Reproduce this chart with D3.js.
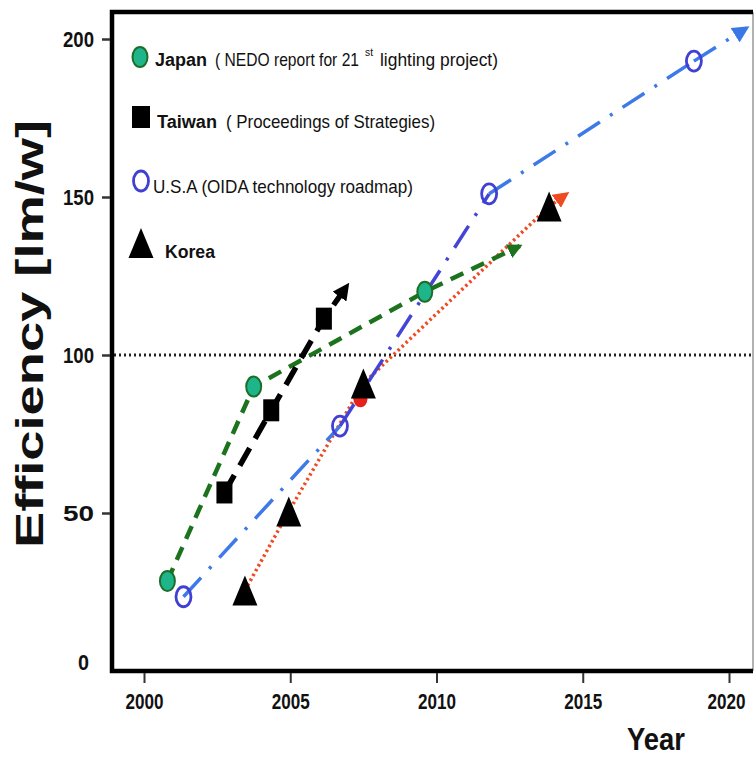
<!DOCTYPE html>
<html><head><meta charset="utf-8">
<script src="https://cdn.jsdelivr.net/npm/d3@7"></script>
<style>
html,body{margin:0;padding:0;background:#fff;}
svg{display:block;}
</style></head>
<body>
<svg id="chart" width="755" height="760"></svg>
<script>
// ---- data ----
const xTicks = [2000, 2005, 2010, 2015, 2020];
const yTicks = [0, 50, 100, 150, 200];
const seriesNames = ["Japan", "Taiwan", "U.S.A", "Korea"];
const japanYears = [2000.8, 2003.75, 2009.6];
const japanValues = [28.5, 90, 120];
const japanArrow = [2012.85, 134.5];
const taiwanYears = [2002.75, 2004.35, 2006.15];
const taiwanValues = [56.5, 82.5, 111.5];
const taiwanArrow = [2006.95, 122];
const usaYears = [2001.35, 2006.7, 2011.8, 2018.8];
const usaValues = [23.5, 77.5, 151, 193];
const usaArrow = [2020.6, 203.5];
const koreaYears = [2003.45, 2004.95, 2007.5, 2013.85];
const koreaValues = [25.5, 50.5, 91, 147];
const koreaArrow = [2014.45, 151];
const koreaRedPoint = [2007.4, 86];
const referenceLine = 100;

const svg = d3.select("#chart");
const fLeft = 112, fRight = 753, fTop = 12, fBottom = 671;
const x = d3.scaleLinear().domain([2000, 2020]).range([144, 729]);
const y = d3.scaleLinear().domain([0, 200]).range([671, 39]);

// arrow markers
const defs = svg.append("defs");
function arrow(id, color, size) {
  defs.append("marker").attr("id", id)
    .attr("viewBox", "0 0 10 10").attr("refX", 8).attr("refY", 5)
    .attr("markerUnits", "userSpaceOnUse")
    .attr("markerWidth", size).attr("markerHeight", size)
    .attr("orient", "auto")
    .append("path").attr("d", "M0,0 L10,5 L0,10 Z").attr("fill", color);
}
arrow("arJ", "#1d731d", 15);
arrow("arT", "#000", 17);
arrow("arU", "#3b78e7", 17);
arrow("arK", "#ef4a22", 16);

// reference dotted line at 100
svg.append("line")
  .attr("x1", fLeft + 2).attr("x2", fRight)
  .attr("y1", y(referenceLine)).attr("y2", y(referenceLine))
  .attr("stroke", "#222").attr("stroke-width", 3)
  .attr("stroke-dasharray", "2,3");

const line = d3.line().x(d => x(d[0])).y(d => y(d[1]));
function pts(xs, vs, end) { const p = xs.map((v, i) => [v, vs[i]]); if (end) p.push(end); return p; }

// Korea red dotted
svg.append("path").datum(pts(koreaYears, koreaValues, koreaArrow)).attr("d", line)
  .attr("fill", "none").attr("stroke", "#ef4a22").attr("stroke-width", 3.5)
  .attr("stroke-dasharray", "2.5,3").attr("marker-end", "url(#arK)");
svg.append("ellipse").attr("cx", x(koreaRedPoint[0])).attr("cy", y(koreaRedPoint[1]))
  .attr("rx", 7).attr("ry", 8).attr("fill", "#e8201a");

// USA blue dash-dot
const usaPts = pts(usaYears, usaValues, usaArrow);
const usaSegColors = ["#3d7ae8", "#4444d6", "#3d7ae8", "#3d7ae8"];
for (let i = 0; i < usaPts.length - 1; i++) {
  svg.append("path").datum([usaPts[i], usaPts[i + 1]]).attr("d", line)
    .attr("fill", "none").attr("stroke", usaSegColors[i]).attr("stroke-width", 3.5)
    .attr("stroke-dasharray", "26,12,3,12")
    .attr("marker-end", i === usaPts.length - 2 ? "url(#arU)" : null);
}

// Japan green dashed
svg.append("path").datum(pts(japanYears, japanValues, japanArrow)).attr("d", line)
  .attr("fill", "none").attr("stroke", "#1d731d").attr("stroke-width", 4.5)
  .attr("stroke-dasharray", "14,9").attr("marker-end", "url(#arJ)");

// Taiwan black dashed
svg.append("path").datum(pts(taiwanYears, taiwanValues, taiwanArrow)).attr("d", line)
  .attr("fill", "none").attr("stroke", "#000").attr("stroke-width", 5.5)
  .attr("stroke-dasharray", "20,11").attr("marker-end", "url(#arT)");

// markers
const tri = (cx, cy, w, h) => `M${cx},${cy - h / 2} L${cx + w / 2},${cy + h / 2} L${cx - w / 2},${cy + h / 2} Z`;
svg.selectAll(".kor").data(pts(koreaYears, koreaValues)).join("path")
  .attr("d", d => tri(x(d[0]), y(d[1]), 25, 30)).attr("fill", "#000");
svg.selectAll(".usa").data(pts(usaYears, usaValues)).join("ellipse")
  .attr("cx", d => x(d[0])).attr("cy", d => y(d[1])).attr("rx", 7.5).attr("ry", 10)
  .attr("fill", "none").attr("stroke", "#4040d2").attr("stroke-width", 2.8);
svg.selectAll(".jap").data(pts(japanYears, japanValues)).join("ellipse")
  .attr("cx", d => x(d[0])).attr("cy", d => y(d[1])).attr("rx", 7.5).attr("ry", 10)
  .attr("fill", "#1fb58a").attr("stroke", "#1d6e2a").attr("stroke-width", 2);
svg.selectAll(".tai").data(pts(taiwanYears, taiwanValues)).join("rect")
  .attr("x", d => x(d[0]) - 8).attr("y", d => y(d[1]) - 11).attr("width", 16).attr("height", 22)
  .attr("fill", "#000");

// frame
svg.append("line").attr("x1", fRight).attr("x2", fRight).attr("y1", fTop).attr("y2", fBottom)
  .attr("stroke", "#999").attr("stroke-width", 1.5);
svg.append("path").attr("d", `M${fRight},${fTop} L${fLeft},${fTop} L${fLeft},${fBottom} L${fRight},${fBottom}`)
  .attr("fill", "none").attr("stroke", "#000").attr("stroke-width", 4.5);

// axes
const fontMain = "'Liberation Sans',Arial,sans-serif";
const xAxis = svg.append("g").attr("transform", `translate(0,${fBottom + 2})`)
  .call(d3.axisBottom(x).tickValues(xTicks).tickFormat(d3.format("d")).tickSize(10).tickPadding(10));
xAxis.select(".domain").remove();
xAxis.selectAll("line").attr("stroke", "#333").attr("stroke-width", 2);
xAxis.selectAll("text").attr("font-family", fontMain).attr("font-weight", "bold")
  .attr("font-size", 22).attr("fill", "#111")
  .attr("textLength", 38).attr("lengthAdjust", "spacingAndGlyphs")
  .attr("dx", d => d === 2020 ? -3 : 0);

const yAxis = svg.append("g").attr("transform", `translate(${fLeft - 2},0)`)
  .call(d3.axisLeft(y).tickValues(yTicks).tickSize(8).tickPadding(8));
yAxis.select(".domain").remove();
yAxis.selectAll("line").attr("stroke", "#333").attr("stroke-width", 2.5)
  .attr("opacity", d => d === 0 ? 0 : 1);
yAxis.selectAll("text").attr("font-family", fontMain).attr("font-weight", "bold")
  .attr("font-size", 22).attr("fill", "#111")
  .attr("textLength", d => d === 0 ? 11 : 31).attr("lengthAdjust", "spacingAndGlyphs")
  .attr("transform", d => d === 0 ? "translate(-5,-9)" : null);

// axis titles
svg.append("text").attr("x", 656).attr("y", 750).attr("text-anchor", "middle")
  .attr("font-family", fontMain).attr("font-weight", "bold").attr("font-size", 32)
  .attr("textLength", 58).attr("lengthAdjust", "spacingAndGlyphs").attr("fill", "#111").text("Year");
svg.append("text").attr("transform", "translate(43,334) rotate(-90)").attr("text-anchor", "middle")
  .attr("font-family", fontMain).attr("font-weight", "bold").attr("font-size", 38)
  .attr("textLength", 428).attr("lengthAdjust", "spacingAndGlyphs").attr("fill", "#111")
  .text("Efficiency [lm/w]");

// legend
const lg = svg.append("g").attr("font-family", fontMain).attr("fill", "#111");
lg.append("ellipse").attr("cx", 140).attr("cy", 57).attr("rx", 7.5).attr("ry", 10)
  .attr("fill", "#1fb58a").attr("stroke", "#1d6e2a").attr("stroke-width", 2);
lg.append("text").attr("x", 155).attr("y", 66).attr("font-size", 18).attr("font-weight", "bold")
  .attr("textLength", 52).attr("lengthAdjust", "spacingAndGlyphs").text(seriesNames[0]);
lg.append("text").attr("x", 215).attr("y", 66).attr("font-size", 19)
  .attr("textLength", 144).attr("lengthAdjust", "spacingAndGlyphs").text("( NEDO report for 21");
lg.append("text").attr("x", 365).attr("y", 56).attr("font-size", 10)
  .attr("textLength", 8).attr("lengthAdjust", "spacingAndGlyphs").text("st");
lg.append("text").attr("x", 380).attr("y", 66).attr("font-size", 19)
  .attr("textLength", 118).attr("lengthAdjust", "spacingAndGlyphs").text("lighting project)");

lg.append("rect").attr("x", 132).attr("y", 106).attr("width", 18).attr("height", 22).attr("fill", "#000");
lg.append("text").attr("x", 157).attr("y", 128).attr("font-size", 18).attr("font-weight", "bold")
  .attr("textLength", 60).attr("lengthAdjust", "spacingAndGlyphs").text(seriesNames[1]);
lg.append("text").attr("x", 226).attr("y", 128).attr("font-size", 19)
  .attr("textLength", 209).attr("lengthAdjust", "spacingAndGlyphs").text("( Proceedings of Strategies)");

lg.append("ellipse").attr("cx", 141).attr("cy", 181).attr("rx", 7.5).attr("ry", 10)
  .attr("fill", "none").attr("stroke", "#4040d2").attr("stroke-width", 2.8);
lg.append("text").attr("x", 153).attr("y", 193).attr("font-size", 19)
  .attr("textLength", 260).attr("lengthAdjust", "spacingAndGlyphs")
  .text(seriesNames[2] + " (OIDA technology roadmap)");

lg.append("path").attr("d", tri(141, 243, 25, 30)).attr("fill", "#000");
lg.append("text").attr("x", 165).attr("y", 258).attr("font-size", 18).attr("font-weight", "bold")
  .attr("textLength", 50).attr("lengthAdjust", "spacingAndGlyphs").text(seriesNames[3]);
</script>
</body></html>
